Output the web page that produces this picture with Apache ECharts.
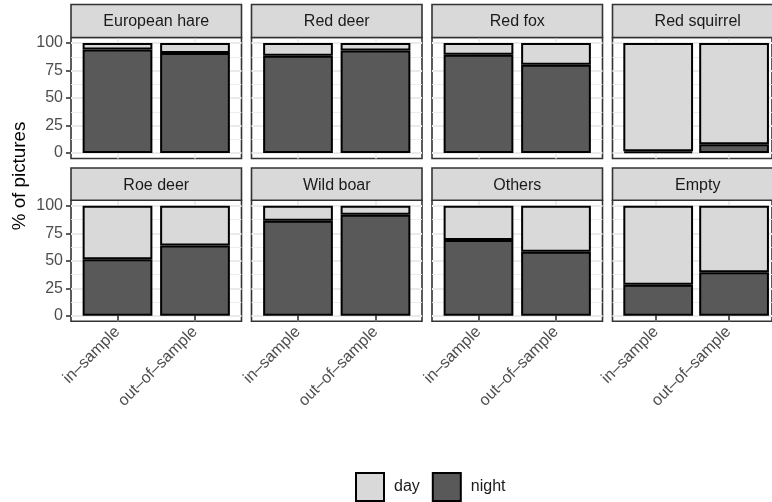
<!DOCTYPE html>
<html><head><meta charset="utf-8">
<script src="https://cdn.jsdelivr.net/npm/echarts@6/dist/echarts.min.js"></script>
<style>html,body{margin:0;padding:0;background:#fff}#c{width:772px;height:502px}</style>
</head><body><div id="c"></div>
<script>
// ---- data ----
const species = ['European hare', 'Red deer', 'Red fox', 'Red squirrel', 'Roe deer', 'Wild boar', 'Others', 'Empty'];
const samples = ['in–sample', 'out–of–sample'];
const nightInSample  = [94, 88.4, 89.3, 1.5, 51.5, 86.4, 68.8, 28.2];
const nightOutSample = [91, 93.2, 80.2, 8, 64, 91.8, 58.2, 39.7];
const dayInSample    = [6, 11.6, 10.7, 98.5, 48.5, 13.6, 31.2, 71.8];
const dayOutSample   = [9, 6.8, 19.8, 92, 36, 8.2, 41.8, 60.3];
const yTicks = [0, 25, 50, 75, 100];
const yMinorTicks = [12.5, 37.5, 62.5, 87.5];
const legendNames = ['day', 'night'];

// ---- layout ----
const FONT = '"Liberation Sans", Arial, Helvetica, sans-serif';
const colLeft = [71, 251.5, 432, 612.5];
const panelW = 170.5;
const rowTop = [37.5, 200.3];
const panelH = 121;
const stripTop = [4.5, 168];
const unitX = panelW / 2.2;          // discrete axis: 2 categories + 0.6 expansion each side
const unitY = panelH / 110;          // 0..100 plus 5% expansion each side
const COL_NIGHT = '#595959', COL_DAY = '#D9D9D9';

const grids = [], xAxes = [], yAxes = [], series = [], graphics = [];
const N = species.length;
species.forEach((name, k) => {
  const r = Math.floor(k / 4), c = k % 4;
  const left = colLeft[c], top = rowTop[r];
  // panel grid (background, gridlines, ticks, labels)
  grids[k] = {left, top, width: panelW, height: panelH, show: true,
    backgroundColor: '#fff', borderColor: '#333', borderWidth: 1.6};
  // bar grid (data area, exactly 0..100 and the two category bands)
  grids[N + k] = {left: left + 0.1 * unitX, top: top + 5 * unitY, width: 2 * unitX, height: 100 * unitY};

  xAxes[k] = {type: 'value', gridIndex: k, min: 0.4, max: 2.6,
    axisLine: {show: false},
    axisTick: {show: r === 1, customValues: [1, 2], length: 5, lineStyle: {color: '#333', width: 1.6}},
    axisLabel: {show: r === 1, customValues: [1, 2], rotate: 45, margin: 8,
      fontSize: 16, color: '#4D4D4D', fontFamily: FONT,
      formatter: v => samples[Math.round(v) - 1]},
    splitLine: {show: true, lineStyle: {color: '#EBEBEB', width: 1.8}}
  };
  xAxes[N + k] = {type: 'category', gridIndex: N + k, data: samples, show: false};

  yAxes[2 * k] = {type: 'value', gridIndex: k, min: -5, max: 105, position: 'left',
    axisLine: {show: false},
    axisTick: {show: c === 0, customValues: yTicks, length: 5, lineStyle: {color: '#333', width: 1.6}},
    axisLabel: {show: c === 0, customValues: yTicks, margin: 8, fontSize: 16, color: '#4D4D4D', fontFamily: FONT},
    splitLine: {show: true, lineStyle: {color: '#EBEBEB', width: 1.8}}
  };
  yAxes[2 * k + 1] = {type: 'value', gridIndex: k, min: -5, max: 105, position: 'right',
    axisLine: {show: false},
    axisTick: {show: false, customValues: yMinorTicks},
    axisLabel: {show: false, customValues: yMinorTicks},
    splitLine: {show: true, lineStyle: {color: '#EBEBEB', width: 0.9}}
  };
  yAxes[2 * N + k] = {type: 'value', gridIndex: N + k, min: 0, max: 100, show: false, splitLine: {show: false}};

  series.push({name: 'night', type: 'bar', xAxisIndex: N + k, yAxisIndex: 2 * N + k, stack: 'p' + k,
    barWidth: 0.9 * unitX, silent: true,
    itemStyle: {color: COL_NIGHT, borderColor: '#000', borderWidth: 2},
    data: [nightInSample[k], nightOutSample[k]]});
  series.push({name: 'day', type: 'bar', xAxisIndex: N + k, yAxisIndex: 2 * N + k, stack: 'p' + k,
    barWidth: 0.9 * unitX, silent: true,
    itemStyle: {color: COL_DAY, borderColor: '#000', borderWidth: 2},
    data: [dayInSample[k], dayOutSample[k]]});

  graphics.push({type: 'rect', shape: {x: left, y: stripTop[r], width: panelW, height: top - stripTop[r]},
    style: {fill: '#D9D9D9', stroke: '#333', lineWidth: 1.6}, z: 5});
  graphics.push({type: 'text', x: left + panelW / 2, y: (stripTop[r] + top) / 2 + 1, z: 6,
    style: {text: name, fill: '#1A1A1A', fontSize: 16, fontFamily: FONT, align: 'center', verticalAlign: 'middle'}});
});
graphics.push({type: 'text', x: 20, y: 176, rotation: Math.PI / 2, z: 6,
  style: {text: '% of pictures', fill: '#000', fontSize: 18.8, fontFamily: FONT, align: 'center', verticalAlign: 'middle'}});

const chart = echarts.init(document.getElementById('c'), null, {renderer: 'canvas'});
chart.setOption({
  animation: false,
  backgroundColor: '#fff',
  grid: grids, xAxis: xAxes, yAxis: yAxes, series,
  graphic: graphics,
  legend: {data: legendNames, left: 355, top: 472, padding: 0, orient: 'horizontal', icon: 'rect',
    itemWidth: 28, itemHeight: 28, itemGap: 12, selectedMode: false,
    textStyle: {fontSize: 16, color: '#1A1A1A', fontFamily: FONT, padding: [0, 0, 0, 5]}}
});
</script></body></html>
